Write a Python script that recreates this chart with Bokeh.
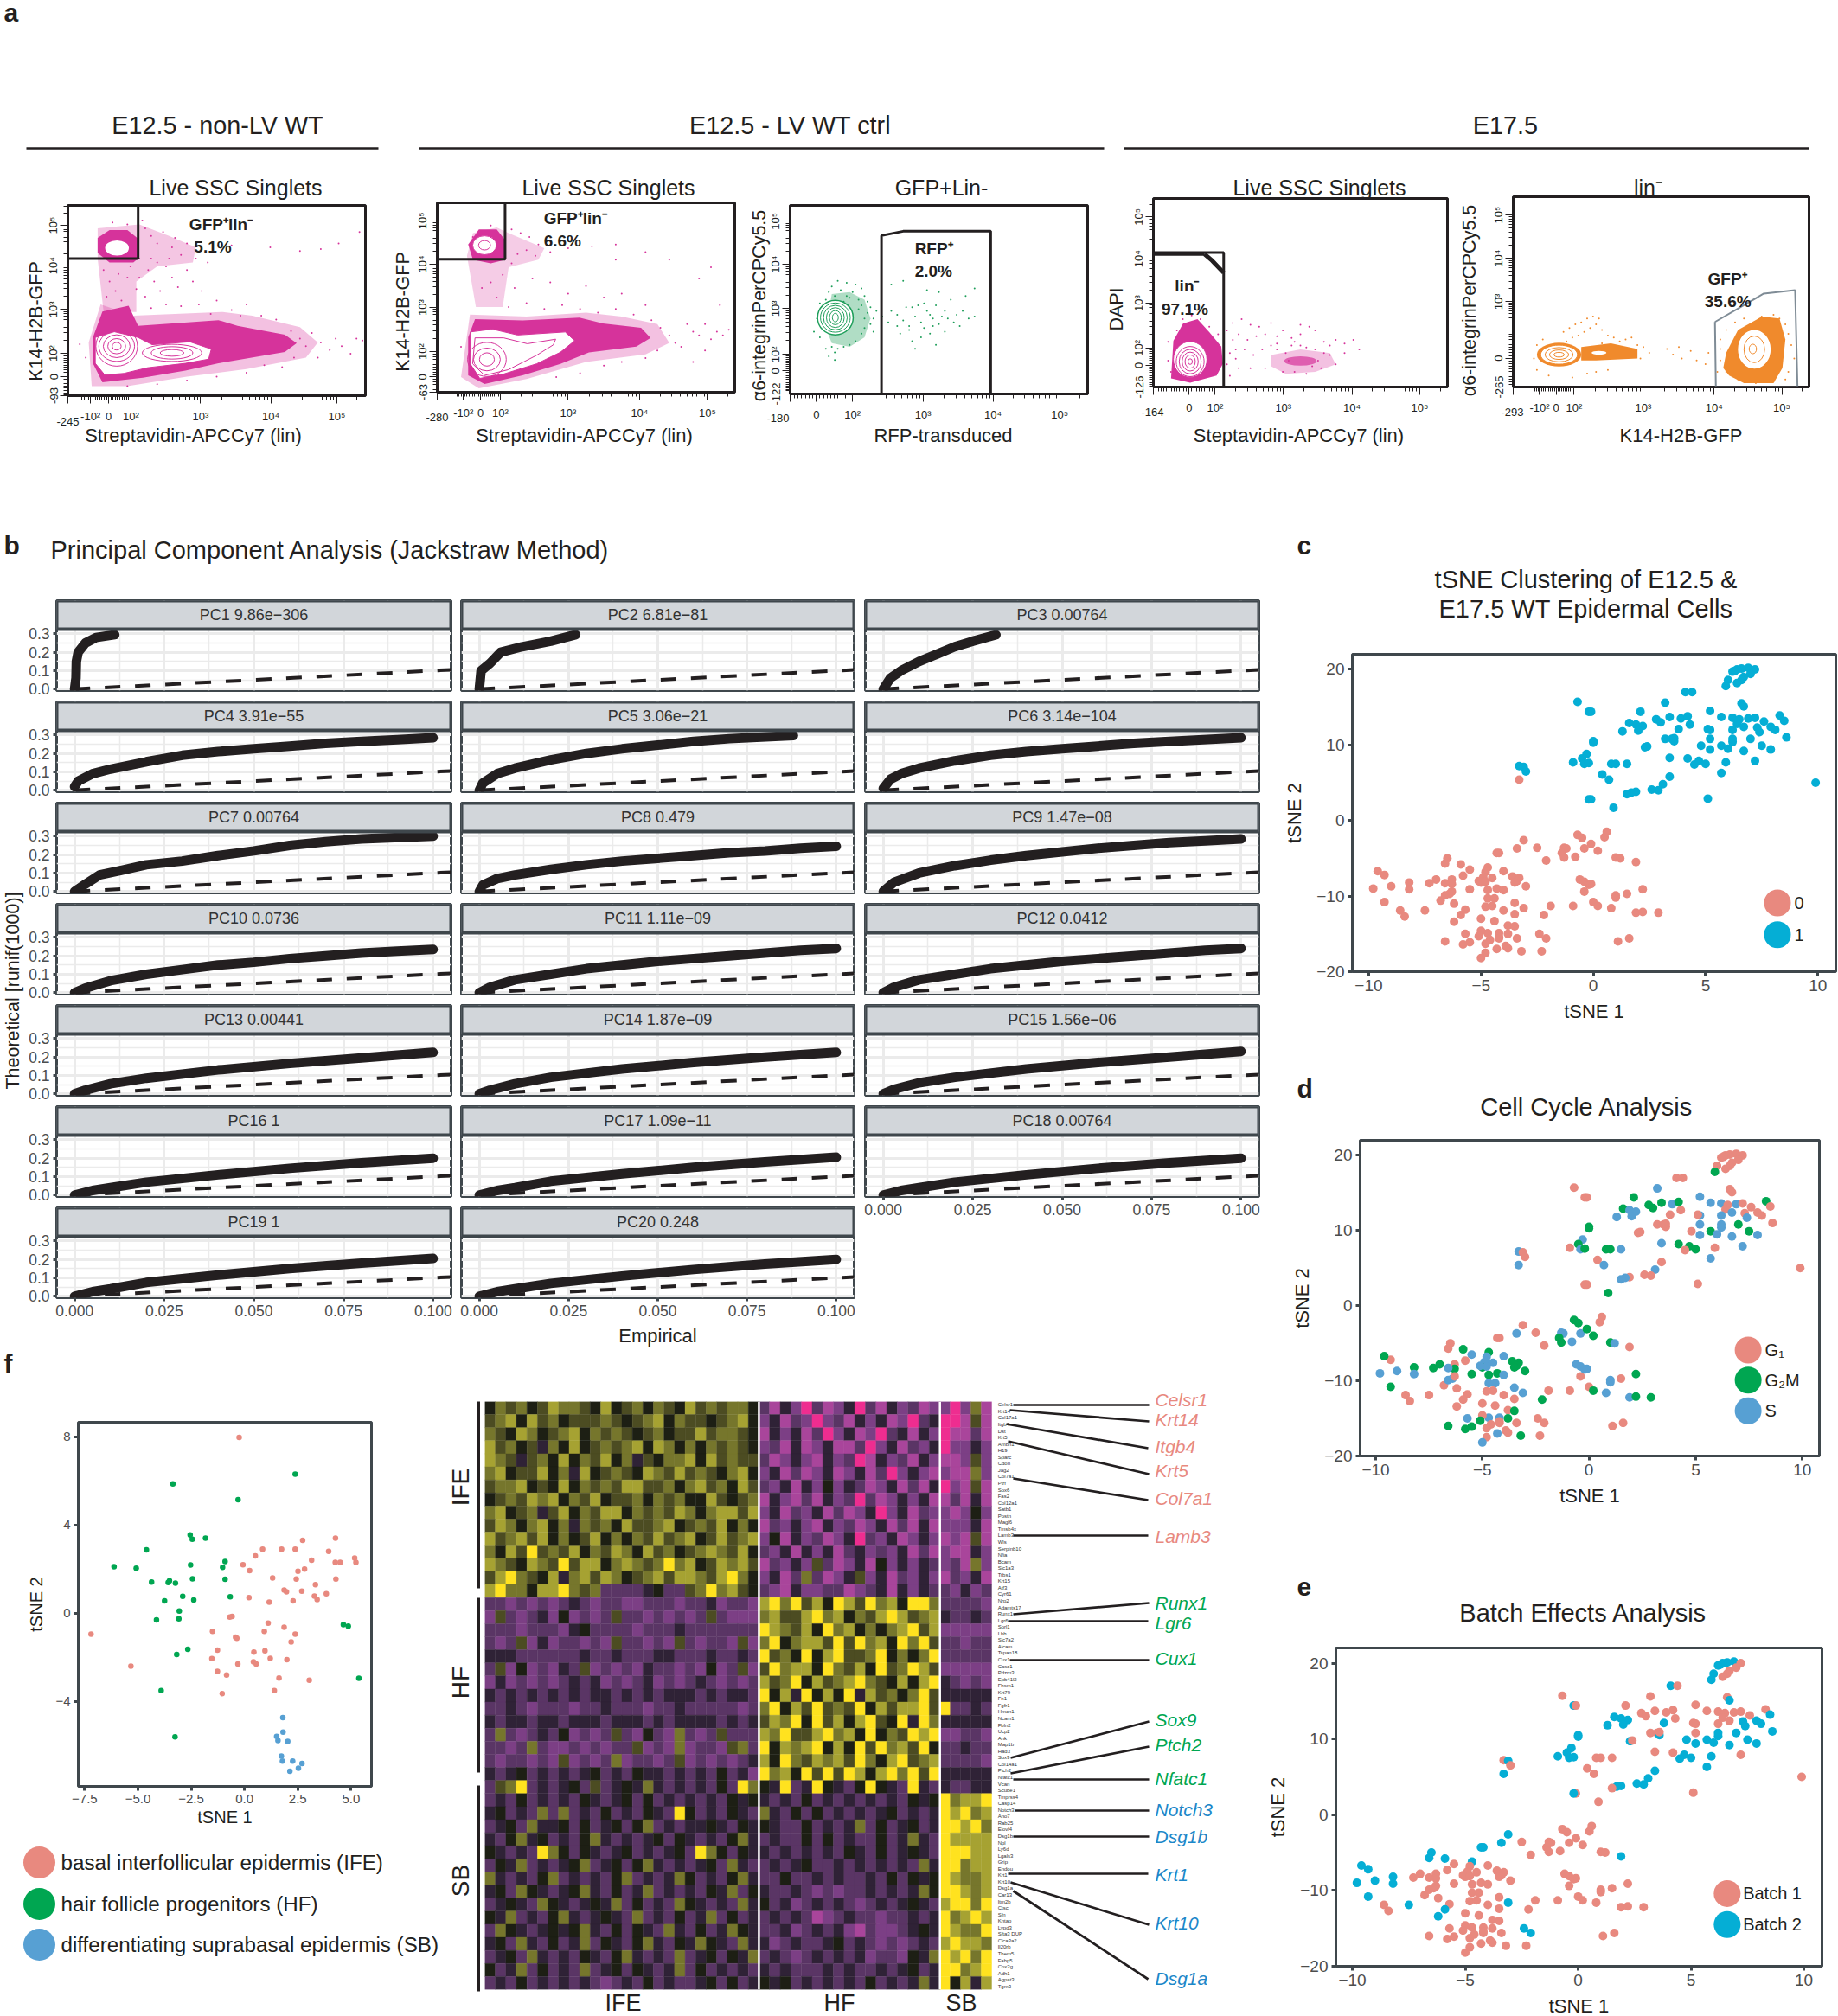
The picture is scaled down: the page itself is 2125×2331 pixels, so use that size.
from math import pi, log10
from bokeh.embed import file_html
from bokeh.resources import INLINE
from bokeh.models import Column, Range1d, FixedTicker, ColumnDataSource
from bokeh.plotting import figure
from bokeh.core.properties import value

FONT = "Liberation Sans"
INK = "#231f20"
FRAME = "#3f474c"
GREY = "#4d4d4d"
SALMON = "#E8897F"
CYAN = "#05AED5"
GREEN = "#00A651"
SBLUE = "#57A0D3"
PINK = "#D6339B"
SEA = "#1E9E5A"
ORANGE = "#F08A2C"

figs = []
# A Column aligns the frames of its children, so every figure gets the same left and right border.
BL, BR = 90, 3

def frame_fig(L, T, R, B, xr, yr, bb=50, bt=6, store=figs):
    p = figure(width=R - L + BL + BR, height=B - T + bb + bt, x_range=Range1d(*xr), y_range=Range1d(*yr),
               output_backend="svg", toolbar_location=None, min_border_left=BL, min_border_right=BR,
               min_border_top=bt, min_border_bottom=bb, border_fill_color=None)
    p.styles = {"position": "absolute", "left": f"{L - BL}px", "top": f"{T - bt}px"}
    store.append(p)
    return p

# ---------- page layers on top of the panels: headings, panel letters, captions ----------
layers = []
def layer(L, R, top=8, bottom=2331):
    c = frame_fig(L, top, R, bottom, (L, R), (bottom, top), bb=0, bt=0, store=layers)
    c.background_fill_color = None
    c.outline_line_color = None
    c.axis.visible = False
    c.grid.visible = False
    return c

left_page = layer(0, 1000)
right_page = layer(480, 2122)
corner = layer(0, 40, 0, 40)
corner.text([4], [14], text=["a"], text_font=value(FONT), text_font_size="30px", text_color=INK, text_align="left",
            text_baseline="middle", text_font_style="bold")

def T(x, y, s, size, color=INK, angle=0, align="center", style="normal"):
    c = left_page if x < 480 else right_page
    c.text([x], [y], text=[s], text_font=value(FONT), text_font_size=f"{size}px", text_color=color, angle=angle,
           text_align=align, text_baseline="middle", text_font_style=style)

for s, x, y in [("b", 4, 630), ("c", 1499, 630), ("d", 1499, 1258), ("e", 1499, 1834), ("f", 4, 1576)]:
    T(x, y, s, 30, align="left", style="bold")

for s, x, x0, x1 in [("E12.5 - non-LV WT", 251, 30, 437), ("E12.5 - LV WT ctrl", 913, 484, 1276), ("E17.5", 1740, 1299, 2091)]:
    T(x, 144, s, 28.8)
    (left_page if x0 < 480 else right_page).line([x0, x1], [171, 171], line_color=INK, line_width=2.5)

for s, x in [("Live SSC Singlets", 272), ("Live SSC Singlets", 703), ("GFP+Lin-", 1088), ("Live SSC Singlets", 1525), ("lin⁻", 1905)]:
    T(x, 216, s, 25)
for s, x in [("Streptavidin-APCCy7 (lin)", 223), ("Streptavidin-APCCy7 (lin)", 675), ("RFP-transduced", 1090),
             ("Steptavidin-APCCy7 (lin)", 1501), ("K14-H2B-GFP", 1943)]:
    T(x, 503, s, 22)
for s, x, y in [("K14-H2B-GFP", 41, 371), ("K14-H2B-GFP", 465, 360), ("α6-integrinPerCPCy5.5", 877, 353),
                ("DAPI", 1290, 357), ("α6-integrinPerCPCy5.5", 1698, 347)]:
    T(x, y, s, 21.5, angle=pi / 2)
for s, x, y in [("-245", 78, 487), ("-280", 505, 482), ("-180", 899, 483), ("-164", 1332, 476), ("-293", 1748, 476)]:
    T(x, y, s, 13)

T(58, 635, "Principal Component Analysis (Jackstraw Method)", 29, align="left")
T(760, 1544, "Empirical", 22)
T(14, 1145, "Theoretical [runif(1000)]", 21.5, angle=pi / 2)
T(1833, 669, "tSNE Clustering of E12.5 &", 29)
T(1833, 703, "E17.5 WT Epidermal Cells", 29)
T(1834, 1279, "Cell Cycle Analysis", 29)
T(1830, 1864, "Batch Effects Analysis", 29)

# ---------- a: flow cytometry panels (positions in % of each panel's biexponential axis) ----------
def flow_axis(ax, low, neg, zero, p2, p3, p4, p5, lab_low, skip=()):
    step = (p2 - zero) / 10
    minors = [zero + i * step for i in range(-12, 10) if zero + i * step >= low]
    for a, b in [(p2, p3), (p3, p4), (p4, p5), (p5, p5 + p5 - p4)]:
        minors += [a + (b - a) * log10(m) for m in range(2, 10) if a + (b - a) * log10(m) <= 100]
    labs = {low: lab_low, zero: "0", p2: "10²", p3: "10³", p4: "10⁴", p5: "10⁵"}
    if neg is not None:
        labs[neg] = "-10²"
    for k in skip:
        labs.pop(k, None)
    ax.ticker = FixedTicker(ticks=list(labs), minor_ticks=minors)
    ax.major_label_overrides = {k: v for k, v in labs.items()}
    ax.major_label_text_font = FONT
    ax.major_label_text_font_size = "13px"
    ax.major_label_text_color = INK
    ax.axis_line_color = INK
    ax.axis_line_width = 2
    ax.major_tick_line_color = INK
    ax.minor_tick_line_color = INK
    ax.major_tick_out = 9
    ax.major_tick_in = 0
    ax.minor_tick_out = 5
    ax.minor_tick_in = 0
    ax.major_label_standoff = 7

def flow_fig(L, T_, R, B, xt, yt):
    p = frame_fig(L, T_, R, B, (0, 100), (0, 100), bb=50, bt=5)
    p.grid.visible = False
    p.outline_line_color = INK
    p.outline_line_width = 3
    p.outline_line_alpha = 1
    flow_axis(p.xaxis[0], *xt)
    flow_axis(p.yaxis[0], *yt)
    p.yaxis[0].major_label_orientation = "vertical"
    p.yaxis[0].major_label_standoff = 0
    return p

def shape(p, xs, ys, color, alpha=1.0):
    p.patch(xs, ys, fill_color=color, fill_alpha=alpha, line_color=None)

def rings(p, cx, cy, ws, hs, color, angle=0):
    p.ellipse([cx] * len(ws), [cy] * len(ws), width=ws, height=hs, angle=angle, fill_color=None, line_color=color, line_width=1)

def note(p, x, y, s):
    p.text([x], [y], text=[s], text_font=value(FONT), text_font_size="19px", text_font_style="bold", text_color=INK,
           text_baseline="middle")

p1_dots_x = [26,28,30,32,35,38,30,33,27,24,29,35,40,23,26,31,37,42,45,33,28,38,44,50,55,60,48,58,65,70,75,78,80,82,85,88,90,92,95,97,99,84,76,72,66,60,50,40,30,20,6,4,55,68,78,91,85,98,12,14,16,18,20,13,21,17,24,28,34,36,25,20,15,40,43,47]
p1_dots_y = [88,84,80,86,78,74,70,68,66,62,60,62,66,56,52,55,57,60,55,48,46,47,48,50,45,48,43,42,42,40,34,30,26,33,28,24,30,26,22,30,29,20,20,15,16,12,10,8,6,5,20,27,79,78,76,80,77,86,66,60,55,50,62,52,68,64,72,72,72,83,92,90,91,80,72,70]
p1_haze_x = [10, 24, 34, 43, 42, 30, 23, 23, 12, 10]
p1_haze_y = [88, 90, 84, 78, 70, 68, 60, 44, 44, 72]
p1_low_haze_x = [11, 22, 52, 62, 78, 84, 80, 60, 40, 20, 8, 7]
p1_low_haze_y = [48, 42, 44, 42, 36, 28, 20, 14, 10, 5, 5, 28]
p1_blob_x = [10, 14, 20, 24, 23.6, 22, 14, 10]
p1_blob_y = [83, 87, 87, 82, 72, 70, 70, 75]
p1_low_x = [11.6, 20.4, 23.6, 50.6, 57, 72.9, 76.9, 72.9, 50.6, 39.5, 25.2, 11.6, 8.4, 8.4]
p1_low_y = [44.2, 47.3, 36.7, 39.7, 36.7, 32.1, 27.6, 23, 17, 13.2, 9.4, 7.1, 17, 30.6]
p1_white_x = [9.2, 15.6, 23.6, 28.3, 41, 48.2, 47.3, 39.5, 26.8, 18.8, 12.4, 9.2]
p1_white_y = [30.6, 33.6, 30.6, 26.8, 28.3, 24.5, 19.2, 17, 14.7, 11.7, 10.9, 17]
p1_gate_x = [0, 23.6, 23.6, 0]
p1_gate_y = [72, 72, 100, 100]

p = flow_fig(78, 237, 422, 457, (0, 7.6, 13.7, 21.2, 44.6, 68.2, 90.4, " "), (0, None, 10, 22.2, 45.3, 68.3, 89.5, "-93"))
shape(p, p1_haze_x, p1_haze_y, PINK, 0.28)
shape(p, p1_low_haze_x, p1_low_haze_y, PINK, 0.3)
p.scatter(p1_dots_x, p1_dots_y, size=2, color=PINK, line_color=None)
shape(p, p1_blob_x, p1_blob_y, PINK)
p.ellipse([16.5], [77.6], width=[8], height=[8], fill_color="white", line_color=None)
shape(p, p1_low_x, p1_low_y, PINK)
shape(p, p1_white_x, p1_white_y, "white")
p.line(p1_white_x + p1_white_x[:1], p1_white_y + p1_white_y[:1], line_color=PINK, line_width=1)
rings(p, 16.4, 26, [3, 6, 9, 12, 14], [4, 8, 12, 16, 21], PINK)
rings(p, 35, 22.5, [8, 14, 20], [3.5, 6.5, 9], PINK)
p.line(p1_gate_x + p1_gate_x[:1], p1_gate_y + p1_gate_y[:1], line_color=INK, line_width=3)
note(p, 40.8, 90, "GFP⁺lin⁻")
note(p, 42.4, 78.3, "5.1%")

p2_dots_x = [25,28,31,34,30,27,33,38,44,52,60,70,78,25,22,18,15,20,26,32,38,44,50,56,62,24,30,36,42,48,54,60,66,70,72,75,78,80,74,70,65,62,56,48,40,84,86,88,90,92,94,96,98,82,86,90,15,18,12,8,60,95,88,92]
p2_dots_y = [86,84,82,78,75,73,72,74,76,77,78,74,70,68,62,58,55,50,55,60,58,52,56,50,52,45,47,44,46,44,42,44,41,46,38,34,30,26,22,18,26,16,14,10,8,36,32,30,36,28,32,30,33,24,16,22,85,88,82,24,70,46,60,66]
p2_haze_x = [12, 20, 24, 36, 34, 24, 22, 13, 10]
p2_haze_y = [84, 87, 84, 76, 70, 66, 45, 45, 72]
p2_low_haze_x = [11, 30, 50, 62, 74, 78, 70, 50, 30, 14, 8]
p2_low_haze_y = [41, 40, 42, 40, 36, 26, 20, 16, 7, 2, 8]
p2_blob_x = [10.4, 14, 20, 23, 23, 18, 12]
p2_blob_y = [78, 86, 86, 80, 70, 68, 70]
p2_low_x = [12.7, 28.7, 47.8, 55.7, 68.5, 71.7, 66.9, 51, 41.4, 28.7, 15.9, 10.4, 10.4]
p2_low_y = [38.6, 37.9, 39.4, 36.3, 34, 28.7, 24.1, 21, 15, 8.9, 4.3, 8.9, 29]
p2_white_x = [11.1, 18.5, 27, 43, 46.2, 41.4, 33.4, 22.3, 14.3, 11.1]
p2_white_y = [31.8, 33.3, 30.2, 31.8, 27.2, 21.1, 15, 9.6, 7.3, 15]
p2_loop_x = [12.7, 22.3, 30.3, 39.8, 39, 33.4, 23.9, 15.9, 11.9, 12.7]
p2_loop_y = [28.7, 28.7, 25.6, 28, 25, 19.5, 11.9, 8.9, 15, 28.7]
p2_gate_x = [0, 22.8, 22.8, 0]
p2_gate_y = [70.2, 70.2, 100, 100]

p = flow_fig(505, 234, 849, 453, (0, 8.8, 14.6, 21.2, 44, 68, 90.8, " "), (0, None, 8, 21.4, 44.7, 67.6, 90.5, "-63"))
shape(p, p2_haze_x, p2_haze_y, PINK, 0.25)
shape(p, p2_low_haze_x, p2_low_haze_y, PINK, 0.3)
p.scatter(p2_dots_x, p2_dots_y, size=2, color=PINK, line_color=None)
shape(p, p2_blob_x, p2_blob_y, PINK)
p.ellipse([15.9], [77.6], width=[8], height=[10], fill_color="white", line_color=PINK, line_width=1)
rings(p, 15.9, 77.6, [4], [5], PINK)
shape(p, p2_low_x, p2_low_y, PINK)
shape(p, p2_white_x, p2_white_y, "white")
p.line(p2_loop_x, p2_loop_y, line_color=PINK, line_width=1)
p.line(p2_white_x + p2_white_x[:1], p2_white_y + p2_white_y[:1], line_color=PINK, line_width=1)
rings(p, 16.7, 17.3, [5, 9, 13], [7, 12, 18], PINK)
p.line(p2_gate_x + p2_gate_x[:1], p2_gate_y + p2_gate_y[:1], line_color=INK, line_width=3)
note(p, 35.8, 92, "GFP⁺lin⁻")
note(p, 35.8, 79.8, "6.6%")

p3_dots_x = [14,16,19,22,24,13,17,21,25,12,15,19,23,26,27,26,28,27,25,24,22,20,18,16,14,15,13,15,12,10,9,8,10,29,31,28,33,36,38,40,42,44,46,48,50,34,36,39,37,41,43,45,47,49,52,53,55,57,56,58,60,52,47,44,41,40,45,48,51,54,50,46,38,34,62,49,42,23,25,24,18,20,62,59]
p3_dots_y = [57,60,59,58,56,54,55,54,52,50,52,52,50,49,46,43,40,37,35,32,28,26,25,24,25,22,20,18,24,48,40,33,30,44,41,33,38,42,39,36,41,38,44,40,37,44,36,46,32,46,47,48,42,47,44,40,38,36,42,44,40,33,32,30,28,34,35,36,41,50,54,55,60,58,41,26,24,45,40,47,49,51,56,52]
p3_haze_x = [14, 20, 25, 27, 25, 20, 14, 12]
p3_haze_y = [53, 54, 50, 40, 30, 25, 27, 35]
p3_gate_x = [30.7, 30.7, 38, 67.4, 67.4]
p3_gate_y = [0, 84, 86.3, 86.3, 0]

p = flow_fig(913, 237, 1257, 455, (0, None, 8.8, 21, 44.7, 68.2, 90.6, " "), (0, None, 12.2, 21, 45.3, 68.7, 91.6, "-122"))
shape(p, p3_haze_x, p3_haze_y, SEA, 0.35)
p.scatter(p3_dots_x, p3_dots_y, size=2, color=SEA, line_color=None)
p.ellipse([15.2], [40.5], width=[12], height=[18.3], fill_color="white", line_color=SEA, line_width=1.5)
rings(p, 15.2, 40.5, [10, 8, 6, 4, 2], [15.5, 13, 10.5, 7.5, 4.5], SEA)
p.line(p3_gate_x, p3_gate_y, line_color=INK, line_width=3)
note(p, 41.9, 77, "RFP⁺")
note(p, 41.9, 65.2, "2.0%")

p4_dots_x = [25,27,30,33,36,40,27,29,32,35,38,42,44,47,50,53,55,58,62,65,68,70,26,28,31,34,37,40,42,45,47,50,52,55,58,60,62,56,44,48,52,38,33,29,26,25,28,6,5,8,10,13,16,19,22,5,42,46,54,57,60,65,50,48]
p4_dots_y = [30,34,36,33,32,34,25,28,25,27,28,27,30,26,33,32,30,24,25,23,25,20,18,15,20,17,20,22,20,18,22,22,21,20,18,17,12,14,8,8,7,10,10,10,6,12,20,8,14,30,36,38,36,32,28,24,23,14,11,10,22,18,28,24]
p4_solid_x = [6.8, 10.1, 15, 19, 23.1, 23.6, 21.5, 12.5, 6]
p4_solid_y = [24.5, 33.7, 36, 29.1, 21.5, 12.3, 6.1, 2.3, 4.6]
p4_cloud_x = [40, 50, 60, 62, 55, 45, 40]
p4_cloud_y = [17, 20, 18, 12, 8, 7, 11]
p4_gate_x = [0, 23.9, 23.9, 0]
p4_gate_y = [0, 0, 71.3, 71.3]
p4_corner_x = [17.4, 20, 23.9]
p4_corner_y = [70.5, 67, 60.6]

p = flow_fig(1333, 229, 1673, 447, (0, None, 12.2, 21, 44.2, 67.5, 90.6, " "), (0, None, 11.5, 20.7, 44.5, 68, 90.2, "-126"))
shape(p, p4_cloud_x, p4_cloud_y, PINK, 0.3)
p.ellipse([50], [13.8], width=[11], height=[5], fill_color=PINK, fill_alpha=0.7, line_color=None)
p.scatter(p4_dots_x, p4_dots_y, size=2, color=PINK, line_color=None)
shape(p, p4_solid_x, p4_solid_y, PINK)
p.ellipse([12.5], [14.6], width=[11.4], height=[19], fill_color="white", line_color=PINK, line_width=1)
rings(p, 12.5, 13.5, [9.5, 7.5, 5.5, 3.5, 1.5], [16, 13, 10, 7, 3], PINK)
p.line(p4_gate_x + p4_gate_x[:1], p4_gate_y + p4_gate_y[:1], line_color=INK, line_width=3)
p.line(p4_corner_x, p4_corner_y, line_color=INK, line_width=5)
p.line([0, 17.4], [70.5, 70.5], line_color=INK, line_width=4)
note(p, 7.3, 53.7, "lin⁻")
note(p, 2.8, 41.4, "97.1%")

p5_dots_x = [17,19,21,23,25,27,29,28,26,24,22,20,18,30,32,34,36,38,40,42,44,38,36,40,43,46,30,34,52,54,57,60,62,65,66,56,69,70,72,75,78,84,88,90,92,93,94,95,93,92,88,82,76,72,70,70,32,28,25,20,12,8,7,8,10]
p5_dots_y = [29,31,33,34,36,37,36,33,31,29,27,26,24,30,27,26,24,25,26,22,21,20,18,16,15,18,23,21,20,17,15,19,14,12,18,21,8,25,30,34,36,37,38,36,33,28,22,15,8,4,3,2,4,8,14,20,9,8,7,5,6,9,15,22,25]
p5_tail_x = [23, 33, 42, 42, 28, 23]
p5_tail_y = [21, 23, 20, 15, 14, 14]
p5_right_x = [72, 76, 84, 90, 92, 91, 88, 78, 73, 71]
p5_right_y = [18, 30, 37, 36, 25, 10, 2, 2, 6, 10]
p5_gate_x = [68.2, 84.7, 95.3, 96.1, 68.5, 68.2]
p5_gate_y = [34.2, 49.1, 50.9, 0, 0, 34.2]

p = flow_fig(1749, 227, 2091, 447, (0, 8.9, 14.5, 20.6, 44, 67.9, 90.8, " "), (0, None, 15.2, 29, 44.8, 67.6, 90.4, "-265", (29,)))
p.scatter(p5_dots_x, p5_dots_y, size=2, color=ORANGE, line_color=None)
shape(p, p5_tail_x, p5_tail_y, ORANGE)
p.ellipse([15.5], [17], width=[15], height=[12.5], fill_color=ORANGE, line_color=None)
p.ellipse([15.5], [17], width=[12.5], height=[10], fill_color="white", line_color=ORANGE, line_width=1)
rings(p, 15.5, 17, [9.5, 6.5, 3.5], [7.5, 5, 2.5], ORANGE)
p.ellipse([29], [18], width=[5], height=[2], fill_color="white", line_color=None)
shape(p, p5_right_x, p5_right_y, ORANGE)
p.ellipse([81.5], [19.8], width=[11.5], height=[21], fill_color="white", line_color=ORANGE, line_width=1.5)
rings(p, 81.5, 19.8, [7], [14], ORANGE)
rings(p, 81, 20, [2.5], [5], ORANGE)
p.line(p5_gate_x, p5_gate_y, line_color="#7F8C96", line_width=2)
note(p, 65.8, 57, "GFP⁺")
note(p, 64.7, 44.8, "35.6%")

# ---------- b: jackstraw QQ facets ----------
PC_LABELS = ["PC1 9.86e−306", "PC2 6.81e−81", "PC3 0.00764", "PC4 3.91e−55", "PC5 3.06e−21", "PC6 3.14e−104", "PC7 0.00764",
             "PC8 0.479", "PC9 1.47e−08", "PC10 0.0736", "PC11 1.11e−09", "PC12 0.0412", "PC13 0.00441", "PC14 1.87e−09",
             "PC15 1.56e−06", "PC16 1", "PC17 1.09e−11", "PC18 0.00764", "PC19 1", "PC20 0.248"]
PC_X = [
    [0, .0004, .0005, .001, .003, .006, .0112],
    [0, .0005, .003, .006, .012, .02, .027],
    [0, .002, .005, .01, .015, .02, .025, .0315],
    [0, .001, .005, .01, .02, .03, .04, .05, .06, .07, .08, .09, .1],
    [0, .001, .005, .01, .02, .03, .04, .05, .06, .07, .088],
    [0, .002, .005, .01, .02, .03, .04, .05, .06, .07, .08, .1],
    [0, .003, .007, .013, .02, .03, .04, .05, .06, .07, .08, .1],
    [0, .001, .005, .01, .02, .03, .04, .05, .06, .07, .08, .09, .1],
    [0, .003, .01, .02, .03, .04, .05, .06, .07, .08, .09, .1],
    [0, .003, .01, .02, .03, .04, .05, .06, .07, .08, .09, .1],
    [0, .003, .01, .02, .03, .04, .05, .06, .07, .08, .09, .1],
    [0, .003, .01, .02, .03, .04, .05, .06, .07, .08, .09, .1],
    [0, .003, .01, .02, .04, .06, .08, .1],
    [0, .003, .01, .02, .04, .06, .08, .1],
    [0, .003, .01, .02, .04, .06, .08, .1],
    [0, .005, .01, .02, .04, .06, .08, .1],
    [0, .005, .01, .02, .04, .06, .08, .1],
    [0, .005, .01, .02, .04, .06, .08, .1],
    [0, .005, .01, .02, .04, .06, .08, .1],
    [0, .005, .01, .02, .04, .06, .08, .1],
]
PC_Y = [
    [0, .06, .15, .2, .25, .28, .295],
    [0, .1, .14, .2, .23, .26, .295],
    [0, .06, .1, .15, .19, .23, .26, .295],
    [.02, .05, .09, .115, .155, .19, .21, .225, .24, .255, .265, .275, .285],
    [0, .04, .09, .12, .165, .2, .225, .245, .265, .28, .297],
    [.01, .06, .09, .12, .16, .19, .21, .225, .24, .255, .265, .285],
    [0, .04, .09, .115, .145, .165, .195, .22, .25, .27, .285, .30],
    [0, .035, .07, .09, .12, .145, .165, .18, .195, .21, .22, .235, .245],
    [0, .05, .1, .14, .17, .195, .215, .235, .25, .265, .275, .285],
    [0, .025, .065, .1, .125, .15, .165, .185, .2, .215, .225, .235],
    [0, .03, .07, .1, .13, .15, .17, .185, .2, .215, .23, .24],
    [0, .03, .07, .1, .13, .15, .17, .185, .2, .215, .23, .24],
    [0, .02, .055, .085, .13, .165, .195, .225],
    [0, .02, .055, .09, .135, .17, .2, .225],
    [0, .025, .06, .09, .135, .17, .2, .23],
    [0, .025, .04, .07, .11, .145, .175, .2],
    [0, .025, .04, .075, .115, .15, .18, .205],
    [0, .025, .04, .07, .11, .145, .175, .2],
    [0, .025, .04, .075, .115, .15, .18, .205],
    [0, .025, .04, .07, .11, .145, .175, .2],
]
X_TICKS = [0, .025, .05, .075, .1]
X_MINOR = [.0125, .0375, .0625, .0875]
Y_TICKS = [0, .1, .2, .3]
Y_MINOR = [.05, .15, .25]
COLS = [(65, 521), (533, 987), (1000, 1455)]

for i, lab in enumerate(PC_LABELS):
    r, c = i // 3, i % 3
    L, R = COLS[c]
    top = 694 + 117 * r
    bot = 798 + 117 * r
    p = frame_fig(L, top, R, bot, (-0.005, 0.105), (-0.008, 0.48), bb=35, bt=4)
    p.outline_line_color = FRAME
    p.outline_line_width = 3
    xt = FixedTicker(ticks=X_TICKS, minor_ticks=X_MINOR)
    yt = FixedTicker(ticks=Y_TICKS, minor_ticks=Y_MINOR)
    p.xaxis.ticker = xt
    p.yaxis.ticker = yt
    p.xgrid.ticker = xt
    p.ygrid.ticker = yt
    p.grid.grid_line_color = "#EBEBEB"
    p.grid.grid_line_width = 3
    p.grid.minor_grid_line_color = "#EBEBEB"
    p.grid.minor_grid_line_width = 1.5
    p.line([0, .105], [0, .105], line_color=INK, line_width=4, line_dash="18 17")
    p.line(PC_X[i], PC_Y[i], line_color=INK, line_width=11, line_cap="round", line_join="round")
    p.quad(left=[-.005], right=[.105], bottom=[.325], top=[.48], fill_color="#D2D6DA", line_color=FRAME, line_width=4)
    p.text([.05], [.403], text=[lab], text_font=value(FONT), text_font_size="18px", text_color="#333333", text_align="center", text_baseline="middle")
    for ax in (p.xaxis[0], p.yaxis[0]):
        ax.axis_line_color = None
        ax.major_tick_line_color = FRAME
        ax.major_tick_line_width = 3
        ax.major_tick_out = 4
        ax.major_tick_in = 0
        ax.minor_tick_line_color = None
        ax.major_label_text_font = FONT
        ax.major_label_text_font_size = "17.5px"
        ax.major_label_text_color = GREY
        ax.major_label_standoff = 4
    p.xaxis[0].major_label_overrides = {t: f"{t:.3f}" for t in X_TICKS}
    p.yaxis[0].major_label_overrides = {t: f"{t:.1f}" for t in Y_TICKS}
    p.yaxis[0].visible = c == 0
    p.xaxis[0].visible = (r == 6) or (r == 5 and c == 2)

# ---------- c, d, e: tSNE of the same cells, three labellings ----------
# Each block: points, cluster (0/1), cell-cycle phase (a=G1 b=G2M c=S), batch (1/2)
BLOCKS = [
 ([(6.9,20.2),(7.2,20.0),(6.6,20.1),(6.4,20.0),(6.2,19.7),(6.3,19.8),(7.0,19.4),(6.7,19.0),(6.6,18.6),(6.4,18.2),(6.0,18.6),(5.9,17.8)], "1"*12, "aaaaaaaaaaab", "212222111122"),
 ([(4.1,17.0),(4.4,17.0)], "11", "aa", "21"),
 ([(-0.7,15.7),(-0.2,14.4),(-0.1,14.4)], "111", "aaa", "121"),
 ([(3.2,15.6),(6.6,15.5),(6.7,15.1),(2.1,14.4),(5.2,14.5)], "11111", "caabc", "11211"),
 ([(1.6,12.9),(1.9,12.7),(2.2,12.5),(2.8,13.4),(3.0,13.0),(3.4,13.7),(3.9,13.5),(4.2,13.8),(4.3,12.7),(3.8,12.1),(5.7,13.7),(6.2,13.6),(6.5,13.4),(6.4,12.8),(6.9,13.5),(7.2,13.6),(7.6,13.1),(8.3,13.9),(8.5,13.2),(7.9,12.4),(8.1,12.0),(7.3,12.3),(7.4,11.7),(6.7,12.4),(6.2,12.0),(5.2,12.0),(5.1,12.1),(1.3,11.8),(2.0,11.9)], "1"*29, "bccbbbcbaaccaacaabaaaaccccacc", "22211111121111111122222111122"),
 ([(3.2,10.8),(3.5,10.8),(3.6,10.5),(3.6,10.9),(0,10.5),(0,10.3),(5.2,10.8),(6.2,10.4),(6.2,10.8),(7.0,10.8),(8.6,11.0)], "1"*11, "aaaabbcccba", "11212212222"),
 ([(2.3,9.7),(2.4,9.8),(4.8,9.9),(5.7,9.9),(6.0,9.5),(5.2,9.4),(6.7,9.2),(7.5,9.9),(7.9,9.4)], "1"*9, "aaabcccbc", "212222222"),
 ([(-0.3,8.8),(-0.5,8.2),(-0.9,7.7),(-0.4,7.5),(-0.2,7.6),(0.8,7.5),(1.0,7.5),(1.5,7.5),(3.4,8.3),(4.2,8.2),(4.7,7.9),(4.5,7.4),(5.0,7.5),(5.9,7.7),(7.2,7.9)], "1"*15, "cbacbbbccbbabac", "222221111122221"),
 ([(-3.3,7.2),(-3.1,7.1),(-3.0,6.5),(0.4,6.1),(0.7,5.4),(5.7,6.3),(3.4,5.8),(3.1,4.8),(2.9,4.0),(2.6,4.1),(1.9,3.8),(1.7,3.7),(1.5,3.5),(-0.1,2.8),(-0.2,2.8),(5.1,2.9),(0.9,1.7),(9.9,5.0),(-3.3,5.4)], "1"*18+"0", "caaaccacaaaccaaabac", "1211122222221121112"),
 ([(0.6,-1.5),(0.5,-2.2),(-0.7,-1.9),(-0.5,-2.3),(-3.1,-2.6),(-2.5,-3.6),(-3.4,-3.7),(-1.3,-3.6),(-1.2,-3.7),(-0.4,-3.7),(-0.1,-3.1),(0.2,-4.0)], "0"*12, "aabbaaccccbb", "111121211111"),
 ([(-4.2,-4.3),(-4.3,-4.3),(-1.4,-4.3),(-1.3,-4.9),(-0.8,-4.8),(1.0,-4.9),(1.2,-5.0),(1.9,-5.5),(-2.1,-5.3)], "0"*9, "aabbcbcaa", "221111121"),
 ([(-6.5,-5.0),(-6.6,-5.7),(-5.9,-5.8),(-5.5,-6.5),(-4.7,-6.2),(-4.8,-6.8),(-4.0,-6.7),(-5.8,-7.3),(-4.9,-7.5),(-4.5,-7.6),(-3.6,-7.4),(-3.3,-7.6),(-3.4,-8.0),(-3.5,-8.2),(-5.0,-8.2),(-5.1,-8.0),(-4.8,-8.1),(-6.3,-7.8),(-6.3,-8.4),(-6.6,-8.3),(-7.0,-7.8),(-7.3,-8.3),(-8.2,-8.2),(-8.2,-9.1),(-9.0,-8.7),(-9.3,-7.2),(-9.6,-6.7),(-9.8,-9.0)], "0"*28, "aabcbccaccbbbbbccabcbbbccabc", "22212"+"1"*17+"222222"),
 ([(-9.3,-10.8),(-8.6,-11.9),(-8.4,-12.7),(-7.5,-11.9),(-6.8,-10.6),(-6.6,-9.9),(-6.4,-9.7),(-6.2,-11.0),(-6.3,-9.4),(-5.5,-9.1),(-3.0,-8.7),(-4.7,-9.2),(-4.3,-9.0),(-4.0,-9.2),(-4.7,-10.3),(-4.4,-10.3),(-4.8,-11.4),(-4.5,-11.3),(-3.5,-10.9),(-3.1,-11.6),(-4.0,-11.9),(-5.7,-11.8),(-5.9,-12.5),(-6.2,-13.4),(-5.0,-13.0),(-4.4,-13.3),(-3.5,-12.4)], "0"*27, "baaaaccaabbbbcccaaccaaaaaaa", "211211111111111111121122111"),
 ([(-2.2,-12.5),(-1.9,-11.3),(-0.9,-11.3),(0,-10.8),(0.2,-11.3),(0.8,-11.6),(1.0,-10.2),(1.0,-9.9),(1.5,-9.7),(2.2,-9.1),(-0.4,-9.4),(-0.6,-7.8),(-0.4,-8.1),(-0.2,-8.5),(-0.1,-8.4),(1.9,-12.2),(2.2,-12.1),(2.9,-12.2)], "0"*18, "baaabcccabacccccbb", "1"*18),
 ([(-3.8,-13.9),(-3.5,-14.0),(-3.8,-15.0),(-4.2,-14.9),(-4.2,-15.4),(-4.7,-14.9),(-5.0,-14.6),(-5.1,-15.3),(-5.7,-15.0),(-4.6,-15.8),(-4.2,-15.6),(-3.4,-15.6),(-5.5,-16.1),(-5.8,-16.4),(-6.6,-16.0),(-4.8,-16.3),(-4.3,-17.0),(-3.9,-16.6),(-3.8,-16.9),(-3.2,-17.3),(-4.8,-17.5),(-5.0,-18.2),(-2.3,-17.3),(-2.4,-15.0),(-2.1,-15.6),(1.1,-16.0),(1.6,-15.6)], "0"*27, "abbcacabcaaabbbacaabacaaaaa", "1"*23 + "2211"),
]
TX, TY, CLUSTER, PHASE, BATCH = [], [], [], [], []
for pts, cl, ph, ba in BLOCKS:
    for k, (x, y) in enumerate(pts):
        TX.append(x)
        TY.append(y)
        CLUSTER.append(cl[k])
        PHASE.append(ph[k])
        BATCH.append(ba[k])

def tsne_fig(L, T_, R, B, xr, yr, xt, yt, font, lab, sl, sb):
    p = frame_fig(L, T_, R, B, xr, yr, bb=75, bt=5)
    p.grid.visible = False
    p.outline_line_color = FRAME
    p.outline_line_width = 3
    p.outline_line_alpha = 1
    p.xaxis.ticker = FixedTicker(ticks=[t for t, _ in xt])
    p.yaxis.ticker = FixedTicker(ticks=[t for t, _ in yt])
    p.xaxis.major_label_overrides = dict(xt)
    p.yaxis.major_label_overrides = dict(yt)
    p.xaxis.axis_label = "tSNE 1"
    p.yaxis.axis_label = "tSNE 2"
    p.xaxis.axis_label_standoff = sb
    p.yaxis.axis_label_standoff = sl
    for ax in (p.xaxis[0], p.yaxis[0]):
        ax.axis_line_color = None
        ax.major_tick_line_color = FRAME
        ax.major_tick_line_width = 3
        ax.major_tick_out = 5
        ax.major_tick_in = 0
        ax.minor_tick_line_color = None
        ax.major_label_text_font = FONT
        ax.major_label_text_font_size = font
        ax.major_label_text_color = GREY
        ax.major_label_standoff = 4
        ax.axis_label_text_font = FONT
        ax.axis_label_text_font_size = lab
        ax.axis_label_text_font_style = "normal"
        ax.axis_label_text_color = INK
    return p

AX10 = [(-10, "−10"), (-5, "−5"), (0, "0"), (5, "5"), (10, "10")]
AY20 = [(-20, "−20"), (-10, "−10"), (0, "0"), (10, "10"), (20, "20")]

def tsne_panel(L, T_, R, B, labels, palette, legend, lx, lys, tx, font="19px"):
    p = tsne_fig(L, T_, R, B, (-10.73, 10.8), (-20, 22), AX10, AY20, font, "22px", 10, 8)
    p.scatter(TX, TY, size=10, line_color=None, fill_color=[palette[k] for k in labels])
    p.scatter([lx] * len(lys), lys, size=31, line_color=None, fill_color=[palette[k] for k, _ in legend])
    p.text([tx] * len(lys), lys, text=[s for _, s in legend], text_font=value(FONT), text_font_size="20px", text_color=INK, text_baseline="middle")
    return p

tsne_panel(1563, 756, 2122, 1123, CLUSTER, {"0": SALMON, "1": CYAN}, [("0", "0"), ("1", "1")], 8.2, [-10.9, -15.1], 8.95)
tsne_panel(1572, 1318, 2103, 1683, PHASE, {"a": SALMON, "b": GREEN, "c": SBLUE}, [("a", "G₁"), ("b", "G₂M"), ("c", "S")], 7.46, [-5.9, -9.9, -14.0], 8.25)
tsne_panel(1544, 1905, 2106, 2273, BATCH, {"1": SALMON, "2": CYAN}, [("1", "Batch 1"), ("2", "Batch 2")], 6.6, [-10.4, -14.5], 7.3)

# ---------- f: sub-clustering tSNE ----------
FX_IFE = [-0.25,-7.2,-5.33,2.73,4.27,.85,1.74,2.38,.51,3.95,5.17,5.23,3.15,4.26,4.49,-.07,.24,2.82,2.51,1.32,2.43,4.29,3.33,1.86,1.97,2.69,3.84,3.28,3.41,.21,1.16,2.28,-.69,-.58,1.11,1.86,2.38,.93,-1.5,-.42,-.36,2.19,-1.27,.44,.96,-1.53,1.21,1.99,.42,.55,-.31,-1.27,-.84,1.62,3.04,1.4,-1.05]
FY_IFE = [7.96,-.95,-2.4,3.3,3.4,2.9,2.9,2.9,2.6,2.8,2.5,2.3,2.4,2.3,2.3,2.2,1.93,2.0,1.9,1.6,1.55,1.55,1.3,1.05,.97,1.0,.88,.78,.62,.71,.5,.56,-.17,-.14,-.45,-.63,-.95,-.82,-.82,-1.08,-1.13,-1.3,-1.67,-1.76,-1.7,-2.05,-2.04,-2.1,-2.2,-2.3,-2.3,-2.63,-2.8,-2.93,-3.03,-3.5,-3.64]
FX_HF = [2.38,-3.36,-.3,-2.55,-2.45,-1.83,-4.6,-6.12,-5.08,-2.53,-.91,-1.03,-4.36,-3.58,-3.52,-3.24,-2.44,-.91,-2.9,-3.75,-2.38,-.67,-3.06,-3.08,-4.13,-2.66,-3.18,-3.91,-3.26,4.64,4.87,5.37]
FY_HF = [6.3,5.86,5.14,3.55,3.35,3.4,2.87,2.11,2.04,2.19,2.34,2.08,1.41,1.39,1.47,1.36,1.56,1.54,.77,.56,.6,.75,.1,-.25,-.3,-1.63,-1.87,-3.5,-5.6,-.52,-.58,-2.94]
FX_SB = [1.8,1.81,1.51,1.57,2.03,1.73,1.78,2.26,2.7,2.53,2.13]
FY_SB = [-4.73,-5.38,-5.58,-5.76,-5.8,-6.47,-6.69,-6.69,-6.8,-7.02,-7.15]

p = tsne_fig(90, 1644, 429, 2065, (-7.8, 5.96), (-7.84, 8.65),
             [(-7.5, "−7.5"), (-5, "−5.0"), (-2.5, "−2.5"), (0, "0.0"), (2.5, "2.5"), (5, "5.0")],
             [(-4, "−4"), (0, "0"), (4, "4"), (8, "8")], "15px", "20px", 8, 2)
p.scatter(FX_IFE, FY_IFE, size=6.5, color=SALMON, line_color=None)
p.scatter(FX_HF, FY_HF, size=6.5, color=GREEN, line_color=None)
p.scatter(FX_SB, FY_SB, size=6.5, color=SBLUE, line_color=None)

for s, c, y in [("basal interfollicular epidermis (IFE)", SALMON, 2153), ("hair follicle progenitors (HF)", GREEN, 2201),
                ("differentiating suprabasal epidermis (SB)", SBLUE, 2248)]:
    left_page.scatter([45], [y], size=37, color=c, line_color=None)
    T(70, y, s, 24.2, align="left")

for s, y in [("IFE", 1719), ("HF", 1945), ("SB", 2174)]:
    T(532, y, s, 28, angle=pi / 2)
for y0, y1 in [(1620, 1836), (1847, 2049), (2064, 2302)]:
    right_page.line([553, 553], [y0, y1], line_color=INK, line_width=3)
for s, x in [("IFE", 720), ("HF", 970), ("SB", 1111)]:
    T(x, 2315, s, 27)

# ---------- f: marker heatmap. Levels 0 (pink) .. 5 (black) .. 9 (yellow), hand-estimated from the
# picture at half the original resolution; the exact original cells could not be read one by one. ----------
HEAT = [
 "57675687765856757658676775|31420312403142312|20271",
 "67858675666765678576656785|24132023142412034|00161",
 "76587567857676567566867765|14241302412034142|01131",
 "86756475856767858757576765|23141241130241324|02242",
 "87646758576857465778586766|31242142301423142|11262",
 "78566857485676587686765785|24131241241302421|21172",
 "67785658576768866757867586|32414252431241314|02161",
 "56768785768566757675586567|14213142303124241|13141",
 "78567468576885767687578868|24132413124024132|21252",
 "68757857476758667856768575|13242142312413141|22241",
 "86786857568575768678568678|25142312403241242|12161",
 "75869676857687586756787685|32414241342324131|21142",
 "87658769688578767978568786|13242631241524243|23172",
 "68976584786875678688768975|24137312462413242|13241",
 "89775889767333345336797865|32142233123414243|32423",
 "33232323432332233323342332|89796859869785997|33332",
 "26323425232363323232363222|78668978576898678|43343",
 "33323332453333233343333333|98768597857578968|22222",
 "32362423323263323263233262|79578869697859796|33233",
 "44433333343343334433343343|96759589667957579|33333",
 "36252324362323243323252362|69788597685967986|22222",
 "24232323434232342323432323|86795867897658589|43232",
 "43434343434434343444343443|95849585948675796|44444",
 "33432333233433323343333323|79586967695868896|93343",
 "43443443444344434344443434|68795968589659497|44444",
 "37323435232363253273236333|87966897859576989|22332",
 "33237322323233623272332673|95878958596978695|33433",
 "32332326232372332362323234|85976878697589678|33332",
 "43453434345343544343435342|97859696985897969|44444",
 "36793434536345474343435397|54934954359543943|43344",
 "34353434354345353434343545|43435343434343545|97889",
 "45343737343534354395343543|74353534343453434|98978",
 "34537445353453573434454354|54335343473534534|99897",
 "43574534357434345354343574|34335353433534743|98888",
 "54343975354345343453975354|43434343543534543|99988",
 "35473434573453574343453743|34345334343434374|99788",
 "74343573434357343475343574|33533434334353545|98778",
 "45375434574353473434354735|43343232334343475|99878",
 "34543754345473534375434374|53423434323434543|89979",
 "54734357434543734353473534|34343123433233434|97898",
 "37543454574353543743534754|33423434213223454|98779",
 "45374353473543574354754374|42343345343232343|89887",
 "34537434354357434373453547|34323434342332547|98979",
 "53473534373453543473534343|43433343433434534|99789",
 "34353434343234353433453534|54534343435343474|95848",
]
HEAT_LEVELS = ["#EE2D90", "#A9459B", "#7C3F85", "#5A3565", "#2F2236", "#1D1F14", "#4C4C22", "#76762C", "#A6A232", "#FFE21F"]
GENES = ["Celsr1","Krt14","Col17a1","Itgb4","Dst","Krt5","Ambn1","H19","Sparc","Cdon","Jag2","Col7a1","Ptrf","Sox6","Fas2","Col12a1","Satb1","Postn","Magl6","Tmsb4x","Lamb3","Wls","Serpinb10","Nfia","Bcam","Slc1a3","Trbs1","Krt15","Atf3","Cyr61",
         "Nrp2","Adamts17","Runx1","Lgr6","Sorl1","Lbh","Slc7a2","Alcam","Tspan18","Cux1","Casz1","Pdzrn3","Epb41l2","Fhsm1","Krt79","Fn1","Fgfr1","Hmcn1","Ncam1","Fbln2","Ucp2","Ank","Map1b","Had3","Sox9","Col14a1","Ptch2","Nfatc1","Vcan","Scube1",
         "Tmprss4","Casp14","Notch3","Ano7","Rab25","Elovl4","Dsg1b","Npl","Ly6d","Lgals3","Grip","Endou","Krt1","Krt10","Dsg1a","Car13","Itm2b","Ctsc","Sfn","Kntap","Lypd3","Sfta3  DUP","Clca3a2","Il20rb","Them5","Fabp5","Cox2g","Adh1","Agpat3","Tgm3"]
BLOCK_WIDTHS = [53, 35, 10]

# The frame runs on past the cells (98 columns = 586 px) to hold the gene names.
h = frame_fig(560, 1620, 1186, 2300, (0, 98 * 626 / 586), (90, 0), bb=6, bt=6)
h.grid.visible = False
h.outline_line_color = None
h.background_fill_color = None
lf, rt, tp, bm, col = [], [], [], [], []
row_h = 90 / len(HEAT)
for r, row in enumerate(HEAT):
    x0 = 0
    for block, bw in zip(row.split("|"), BLOCK_WIDTHS):
        w = bw / len(block)
        for k, ch in enumerate(block):
            lf.append(x0 + k * w)
            rt.append(x0 + (k + 1) * w)
            tp.append(r * row_h)
            bm.append((r + 1) * row_h)
            col.append(HEAT_LEVELS[int(ch)])
        x0 += bw
h.quad(left="lf", right="rt", top="tp", bottom="bm", fill_color="col", line_color="col", line_width=0.4,
       source=ColumnDataSource(dict(lf=lf, rt=rt, tp=tp, bm=bm, col=col)))
h.segment([53, 88], [0, 0], [53, 88], [90, 90], line_color="white", line_width=2.5)
h.xaxis.visible = False
h.yaxis.visible = False
h.text([99.2] * 90, [i + .5 for i in range(90)], text=GENES, text_font=value(FONT), text_font_size="6px", text_color="#333333", text_baseline="middle")

# ---------- gene call-outs: name, y of label, colour, tick start x,y and end x,y ----------
CALL_NAMES = ["Celsr1","Krt14","Itgb4","Krt5","Col7a1","Lamb3","Runx1","Lgr6","Cux1","Sox9","Ptch2","Nfatc1","Notch3","Dsg1b","Krt1","Krt10","Dsg1a"]
CALL_LABEL_Y = [1618,1641,1672,1700,1732,1776,1853,1876,1917,1988,2017,2056,2092,2123,2167,2223,2287]
CALL_COLOR = [SALMON]*6 + [GREEN]*6 + ["#1C87C9"]*5
CALL_X0 = [1171,1167,1163,1165,1171,1171,1171,1165,1167,1168,1168,1171,1173,1171,1165,1168,1171]
CALL_Y0 = [1624,1630,1646,1666,1709,1775,1866,1874,1919,2032,2050,2057,2093,2123,2166,2176,2186]
CALL_X1 = [1328,1328,1327,1328,1327,1327,1328,1327,1328,1328,1328,1328,1328,1328,1327,1328,1327]
CALL_Y1 = [1624,1643,1674,1704,1734,1775,1853,1874,1919,1990,2019,2057,2093,2123,2166,2225,2288]
right_page.segment(CALL_X0, CALL_Y0, CALL_X1, CALL_Y1, line_color=INK, line_width=2.7)
right_page.text([1335] * 17, CALL_LABEL_Y, text=CALL_NAMES, text_font=value(FONT), text_font_size="21px", text_font_style="italic",
                text_color=CALL_COLOR, text_baseline="middle")

root = Column(children=figs + layers, width=2117, height=2323)
open("out.html", "w").write(file_html(root, INLINE))
